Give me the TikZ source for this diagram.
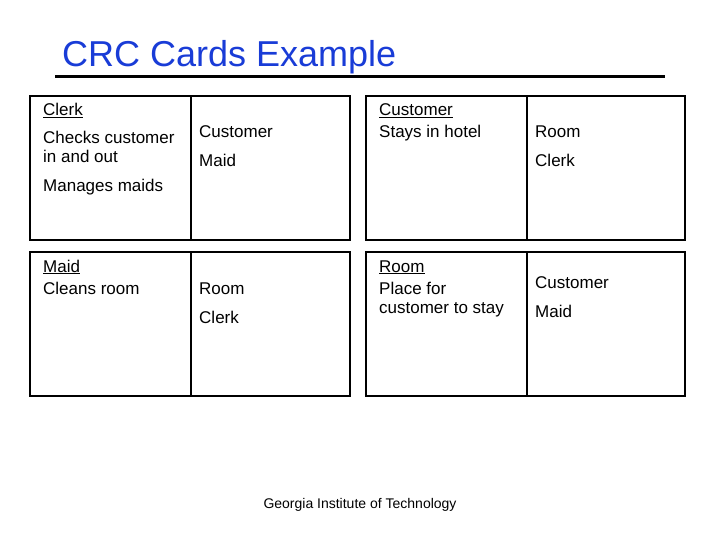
\documentclass[tikz,border=0pt]{standalone}
\usepackage{fontspec}
\setmainfont{Liberation Sans}
\definecolor{ttl}{RGB}{25,60,215}
\begin{document}
\begin{tikzpicture}[x=1pt,y=-1pt,
  card/.style={line width=2.8pt},
  tx/.style={anchor=base west,inner sep=0,font=\fontsize{17}{19}\selectfont},
  hd/.style={tx}]
\useasboundingbox (0,0) rectangle (720,540);
\node[anchor=base west,inner sep=0,text=ttl,font=\fontsize{36}{40}\selectfont] (title) at (62,67) {CRC Cards Example};
\coordinate (ul) at (55,77); \coordinate (ur) at (665,77);
\draw[line width=3pt] (ul) -- (ur);
% cards
\draw[card] (30,96) rectangle (350,240); \draw[card] (191,96) -- (191,240);
\draw[card] (366,96) rectangle (685,240); \draw[card] (527,96) -- (527,240);
\draw[card] (30,252) rectangle (350,396); \draw[card] (191,252) -- (191,396);
\draw[card] (366,252) rectangle (685,396); \draw[card] (527,252) -- (527,396);
% Clerk
\node[hd] (c1) at (43,116) {\underline{Clerk}};
\node[tx] (c2) at (43,144) {Checks customer};
\node[tx] (c3) at (43,163) {in and out};
\node[tx] (c4) at (43,192) {Manages maids};
\node[tx] (c5) at (199,138) {Customer};
\node[tx] (c6) at (199,167) {Maid};
% Customer
\node[hd] (u1) at (379,116) {\underline{Customer}};
\node[tx] (u2) at (379,138) {Stays in hotel};
\node[tx] (u3) at (535,138) {Room};
\node[tx] (u4) at (535,167) {Clerk};
% Maid
\node[hd] (m1) at (43,272) {\underline{Maid}};
\node[tx] (m2) at (43,294) {Cleans room};
\node[tx] (m3) at (199,294) {Room};
\node[tx] (m4) at (199,323) {Clerk};
% Room
\node[hd] (r1) at (379,272) {\underline{Room}};
\node[tx] (r2) at (379,294) {Place for};
\node[tx] (r3) at (379,313) {customer to stay};
\node[tx] (r4) at (535,288) {Customer};
\node[tx] (r5) at (535,317) {Maid};
\node[anchor=base,inner sep=0,font=\fontsize{14}{16}\selectfont] (foot) at (360,508) {Georgia Institute of Technology};
\end{tikzpicture}
\end{document}
